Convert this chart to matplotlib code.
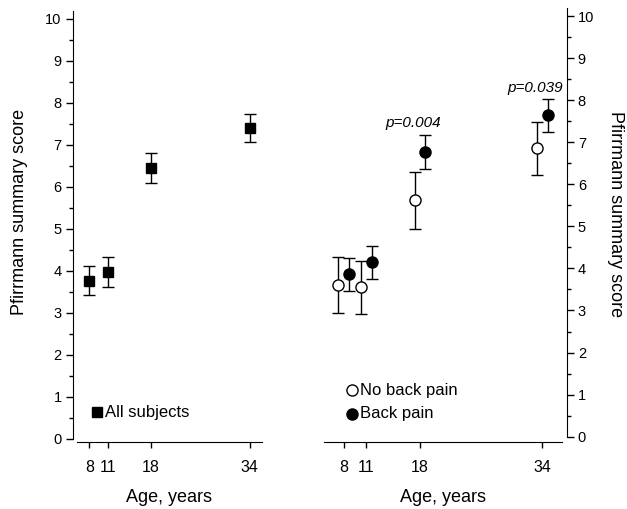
import matplotlib
matplotlib.use("Agg")
import matplotlib.pyplot as plt
from matplotlib.ticker import MultipleLocator

plt.rcParams["font.family"] = ["Liberation Sans", "DejaVu Sans"]

ages = [8, 11, 18, 34]

# all subjects
all_mean = [3.76, 3.97, 6.45, 7.41]
all_lo = [3.42, 3.63, 6.10, 7.07]
all_hi = [4.11, 4.33, 6.81, 7.75]

# no back pain / back pain
nbp_mean = [3.61, 3.57, 5.63, 6.86]
nbp_lo = [2.95, 2.92, 4.94, 6.23]
nbp_hi = [4.26, 4.18, 6.29, 7.48]
bp_mean = [3.86, 4.15, 6.77, 7.64]
bp_lo = [3.46, 3.75, 6.36, 7.24]
bp_hi = [4.24, 4.54, 7.16, 8.02]

p_labels = ["p=0.004", "p=0.039"]
p_ages = [18, 34]
p_y = [7.46, 8.30]

OFF = 0.7


def style(ax, side):
    for s in ("top", "right", "left", "bottom"):
        ax.spines[s].set_visible(False)
    ax.spines["bottom"].set_visible(True)
    ax.spines[side].set_visible(True)
    ax.spines[side].set_bounds(0, 10.2)
    ax.set_ylim(0, 10.2)
    ax.yaxis.set_major_locator(MultipleLocator(1))
    ax.yaxis.set_minor_locator(MultipleLocator(0.5))
    ax.set_xticks(ages)
    ax.tick_params(axis="y", which="major", direction="out", length=5, width=1,
                   labelsize=10.5, pad=3)
    ax.tick_params(axis="y", which="minor", direction="out", length=3, width=1)
    ax.tick_params(axis="x", which="major", direction="out", length=4, width=1,
                   labelsize=11.5, pad=9)
    ax.set_xlabel("Age, years", fontsize=13, labelpad=10)


def err(lo, m, hi):
    return [[a - b for a, b in zip(m, lo)], [b - a for a, b in zip(m, hi)]]


fig = plt.figure(figsize=(6.27, 5.09), dpi=100)

ax1 = fig.add_axes([77 / 627, 70 / 509, 185 / 627, 428.4 / 509])
style(ax1, "left")
ax1.set_xlim(6, 36)
ax1.spines["left"].set_position(("outward", 3))
ax1.spines["bottom"].set_position(("outward", 2.2))
ax1.errorbar(ages, all_mean, yerr=err(all_lo, all_mean, all_hi), fmt="s", color="black",
             ms=7.5, capsize=4, elinewidth=1, capthick=1)
ax1.plot([9.2], [0.64], "s", color="black", ms=7.5)
ax1.text(10.6, 0.64, "All subjects", fontsize=12, va="center")
ax1.set_ylabel("Pfirrmann summary score", fontsize=13)
ax1.yaxis.set_label_coords(-0.265, 0.53)

ax2 = fig.add_axes([324 / 627, 72.3 / 509, 238.3 / 627, 429.1 / 509])
style(ax2, "right")
ax2.set_xlim(5.45, 36.6)
ax2.yaxis.tick_right()
ax2.yaxis.set_label_position("right")
ax2.spines["right"].set_position(("outward", 3.2))
ax2.spines["bottom"].set_position(("outward", 4))
ax2.errorbar([a - OFF for a in ages], nbp_mean, yerr=err(nbp_lo, nbp_mean, nbp_hi), fmt="o",
             mfc="white", mec="black", color="black", ms=8, mew=1, capsize=4,
             elinewidth=1, capthick=1)
ax2.errorbar([a + OFF for a in ages], bp_mean, yerr=err(bp_lo, bp_mean, bp_hi), fmt="o",
             color="black", ms=8, capsize=4, elinewidth=1, capthick=1)
for a, y, t in zip(p_ages, p_y, p_labels):
    ax2.text(a - 0.9, y, t, fontsize=11, style="italic", ha="center", va="center")
ax2.plot([9.15], [1.11], "o", mfc="white", mec="black", ms=8, mew=1)
ax2.plot([9.15], [0.54], "o", color="black", ms=8)
ax2.text(10.2, 1.11, "No back pain", fontsize=12, va="center")
ax2.text(10.2, 0.54, "Back pain", fontsize=12, va="center")
ax2.set_ylabel("Pfirrmann summary score", fontsize=13, rotation=270)
ax2.yaxis.set_label_coords(1.26, 0.52)

fig.savefig("out.png", dpi=100)
